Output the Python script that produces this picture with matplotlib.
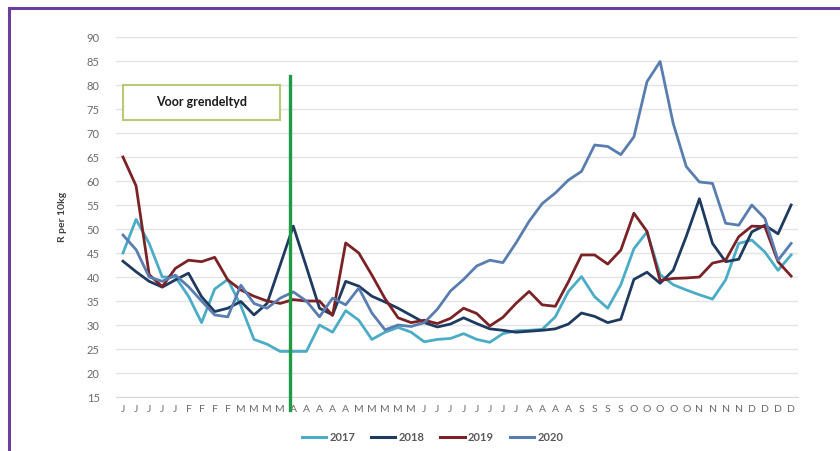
import matplotlib
matplotlib.use('Agg')
import matplotlib.pyplot as plt
from matplotlib.lines import Line2D
from matplotlib.patches import Rectangle

plt.rcParams['font.family'] = ['Lato', 'DejaVu Sans']

# ── Data ──────────────────────────────────────────────────────────────────
months = (['J'] * 5 + ['F'] * 4 + ['M'] * 4 + ['A'] * 5 + ['M'] * 5 +
          ['J'] * 8 + ['A'] * 4 + ['S'] * 4 + ['O'] * 5 + ['N'] * 4 + ['D'] * 4)

y2017 = [45, 52, 47, 40, 40, 36, 30.5, 37.5, 39.5, 34, 27, 26, 24.5, 24.5,
         24.5, 30, 28.5, 33, 31, 27, 28.5, 29.5, 28.5, 26.5, 27, 27.2, 28.2,
         27, 26.4, 28.2, 28.8, 28.9, 29.1, 31.7, 37, 40.1, 35.9, 33.5, 38.4,
         45.9, 49.4, 40.5, 38.4, 37.3, 36.3, 35.4, 39.4, 47, 47.7, 45.2,
         41.4, 44.6]
y2018 = [43.3, 41.1, 39.1, 37.9, 39.4, 40.8, 35.9, 32.8, 33.5, 34.9, 32.1,
         34.5, 42.5, 50.6, 42.1, 33.5, 32.1, 39.1, 38.1, 36, 34.8, 33.5, 32,
         30.5, 29.6, 30.2, 31.5, 30.3, 29.2, 28.9, 28.5, 28.7, 28.9, 29.2,
         30.2, 32.5, 31.8, 30.5, 31.2, 39.5, 41, 38.7, 41.4, 48.5, 56.3, 47,
         43.2, 43.7, 49.4, 50.8, 49, 55]
y2019 = [65, 59, 40.5, 38, 41.8, 43.5, 43.2, 44.1, 39.4, 37.3, 36, 35, 34.5,
         35.3, 35, 35, 32, 47.1, 45, 40.4, 35.5, 31.5, 30.5, 31, 30.3, 31.4,
         33.5, 32.4, 29.8, 31.6, 34.5, 37, 34.2, 33.9, 39, 44.6, 44.6, 42.7,
         45.6, 53.3, 49.5, 39.3, 39.7, 39.8, 40, 42.9, 43.5, 48.4, 50.6,
         50.5, 43.2, 40.2]
y2020 = [48.75, 45.7, 40, 39.1, 40.4, 38, 35, 32.1, 31.7, 38.3, 34.5, 33.5,
         35.6, 36.9, 35, 31.7, 35.6, 34.2, 37.7, 32.5, 29, 30, 29.7, 30.5,
         33.3, 37.1, 39.5, 42.3, 43.5, 43, 47.1, 51.6, 55.3, 57.5, 60.2, 62,
         67.5, 67.2, 65.5, 69.2, 80.7, 84.9, 72, 63, 59.8, 59.5, 51.2, 50.8,
         55, 52.2, 43.5, 47]

years = ['2017', '2018', '2019', '2020']
series = [y2017, y2018, y2019, y2020]
colors = ['#4bacc6', '#1f3a5f', '#7b2226', '#5a7db0']

lockdown_pos = 12.75

# ── Plot ──────────────────────────────────────────────────────────────────
fig = plt.figure(figsize=(8.4, 4.51), dpi=100, facecolor='white')
ax = fig.add_axes([0.1386, 0.1197, 0.811, 0.7982])

x = list(range(len(months)))
for ys, c in zip(series, colors):
    ax.plot(x, ys, color=c, lw=2.0, zorder=3, solid_joinstyle='round')

ax.set_xlim(-0.5, len(months) - 0.5)
ax.set_ylim(15, 90)
ax.set_yticks(range(15, 91, 5))
ax.set_xticks(x)
ax.set_xticklabels(months)
ax.grid(axis='y', color='#e3e3e3', lw=1.0, zorder=0)
ax.set_axisbelow(True)
for s in ['top', 'right', 'left']:
    ax.spines[s].set_visible(False)
ax.spines['bottom'].set_color('#d9d9d9')
ax.tick_params(axis='both', length=0, colors='#6b6b6b', labelsize=7.5)
ax.tick_params(axis='y', pad=12, labelsize=8)
ax.tick_params(axis='x', pad=6)
ax.set_ylabel('R per 10kg', fontsize=7.5, color='#404040',
              fontweight='bold', labelpad=14)

# lockdown marker
ax.plot([lockdown_pos, lockdown_pos], [12.3, 81.8], color='#1f9a45',
        lw=2.4, clip_on=False, zorder=4)

# label box
ax.add_patch(Rectangle((0.0, 72.8), 12.0, 7.3, facecolor='white',
                       edgecolor='#b8c97a', lw=1.5, zorder=5))
ax.text(6.0, 76.45, 'Voor grendeltyd', ha='center', va='center',
        fontsize=9, fontweight='bold', color='#1a1a1a', zorder=6)

handles = [Line2D([], [], color=c, lw=2.2) for c in colors]
leg = fig.legend(handles, years, loc='lower center', ncol=4,
                 bbox_to_anchor=(0.515, -0.005), frameon=False,
                 handlelength=2.2, columnspacing=1.4, handletextpad=0.3,
                 prop={'size': 8, 'weight': 'bold'})
for t in leg.get_texts():
    t.set_color('#595959')

# outer frame (left and top edges)
fig.add_artist(Line2D([0.011, 0.011], [0.0, 0.982], color='#6a3f9c',
                      lw=2.2, transform=fig.transFigure))
fig.add_artist(Line2D([0.011, 1.0], [0.982, 0.982], color='#6a3f9c',
                      lw=2.2, transform=fig.transFigure))

fig.savefig('out.png', dpi=100, facecolor='white')
